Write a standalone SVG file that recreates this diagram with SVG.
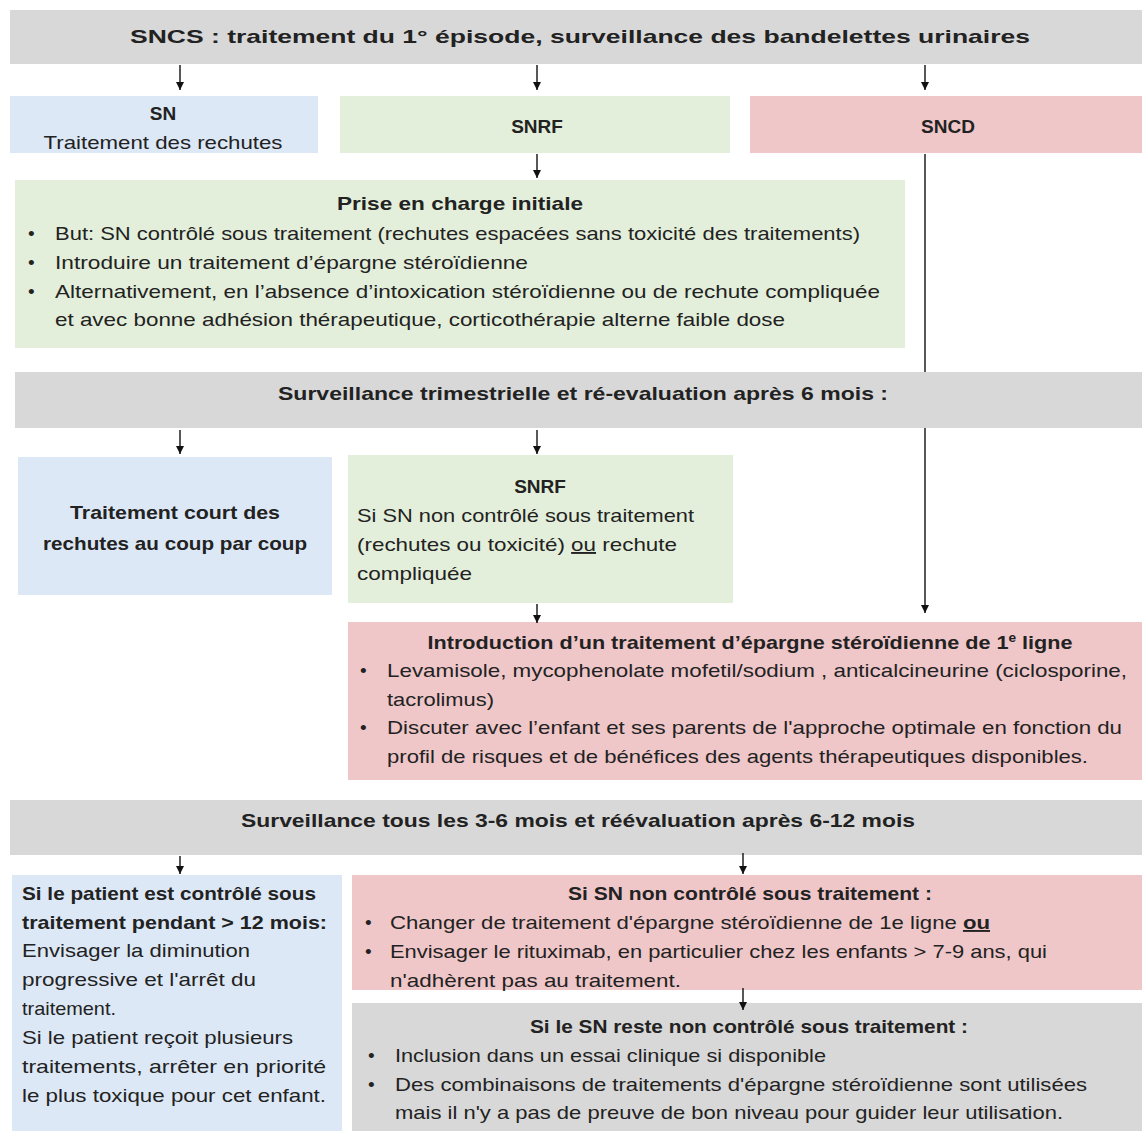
<svg xmlns="http://www.w3.org/2000/svg" width="1142" height="1131" viewBox="0 0 1142 1131">
<style>
.t{font-family:"Liberation Sans",Arial,sans-serif;fill:#222;font-size:19px}
.b{font-weight:bold}
.c{text-anchor:middle}
.gray{fill:#d8d8d8}
.blue{fill:#dde8f6}
.green{fill:#e3efda}
.red{fill:#efc7c9}
.ln{stroke:#111;stroke-width:1.4;fill:none}
.u{text-decoration:underline}
</style>
<defs>
<marker id="ah" viewBox="0 0 10 10" refX="10" refY="5" markerWidth="8" markerHeight="8" markerUnits="userSpaceOnUse" orient="auto">
<path d="M0,0 L10,5 L0,10 z" fill="#111"/>
</marker>
</defs>
<rect width="1142" height="1131" fill="#fff"/>

<g id="title">
<rect class="gray" x="10" y="10" width="1132" height="54"/>
<text class="t b c" x="580" y="43" font-size="27" textLength="900" lengthAdjust="spacingAndGlyphs">SNCS : traitement du 1° épisode, surveillance des bandelettes urinaires</text>
</g>

<g id="sn">
<rect class="blue" x="10" y="96" width="308" height="57"/>
<text class="t b c" x="163" y="120" font-size="20">SN</text>
<text class="t c" x="163" y="149" font-size="20" textLength="239" lengthAdjust="spacingAndGlyphs">Traitement des rechutes</text>
</g>

<g id="snrf">
<rect class="green" x="340" y="96" width="390" height="57"/>
<text class="t b c" x="537" y="133" font-size="20">SNRF</text>
</g>

<g id="sncd">
<rect class="red" x="750" y="96" width="392" height="57"/>
<text class="t b c" x="948" y="133" font-size="20">SNCD</text>
</g>

<g id="prise">
<rect class="green" x="15" y="180" width="890" height="168"/>
<text class="t b c" x="460" y="210" font-size="21" textLength="246" lengthAdjust="spacingAndGlyphs">Prise en charge initiale</text>
<text class="t" x="28" y="240">•</text>
<text class="t" x="55" y="240" textLength="805" lengthAdjust="spacingAndGlyphs">But: SN contrôlé sous traitement (rechutes espacées sans toxicité des traitements)</text>
<text class="t" x="28" y="269">•</text>
<text class="t" x="55" y="269" textLength="473" lengthAdjust="spacingAndGlyphs">Introduire un traitement d’épargne stéroïdienne</text>
<text class="t" x="28" y="298">•</text>
<text class="t" x="55" y="298" textLength="825" lengthAdjust="spacingAndGlyphs">Alternativement, en l’absence d’intoxication stéroïdienne ou de rechute compliquée</text>
<text class="t" x="55" y="326" textLength="730" lengthAdjust="spacingAndGlyphs">et avec bonne adhésion thérapeutique, corticothérapie alterne faible dose</text>
</g>

<g id="surv1">
<rect class="gray" x="15" y="372" width="1127" height="56"/>
<text class="t b c" x="583" y="400" font-size="21" textLength="610" lengthAdjust="spacingAndGlyphs">Surveillance trimestrielle et ré-evaluation après 6 mois :</text>
</g>

<g id="court">
<rect class="blue" x="18" y="457" width="314" height="138"/>
<text class="t b c" x="175" y="519" font-size="20" textLength="210" lengthAdjust="spacingAndGlyphs">Traitement court des</text>
<text class="t b c" x="175" y="550" font-size="20" textLength="264" lengthAdjust="spacingAndGlyphs">rechutes au coup par coup</text>
</g>

<g id="snrf2">
<rect class="green" x="348" y="455" width="385" height="148"/>
<text class="t b c" x="540" y="493" font-size="19">SNRF</text>
<text class="t" x="357" y="522" textLength="337" lengthAdjust="spacingAndGlyphs">Si SN non contrôlé sous traitement</text>
<text class="t" x="357" y="551" textLength="320" lengthAdjust="spacingAndGlyphs">(rechutes ou toxicité) <tspan class="u">ou</tspan> rechute</text>
<text class="t" x="357" y="580" textLength="115" lengthAdjust="spacingAndGlyphs">compliquée</text>
</g>

<g id="intro">
<rect class="red" x="348" y="622" width="794" height="158"/>
<text class="t b c" x="750" y="649" font-size="20" textLength="645" lengthAdjust="spacingAndGlyphs">Introduction d’un traitement d’épargne stéroïdienne de 1<tspan font-size="12" baseline-shift="super">e</tspan> ligne</text>
<text class="t" x="360" y="677">•</text>
<text class="t" x="387" y="677" textLength="740" lengthAdjust="spacingAndGlyphs">Levamisole, mycophenolate mofetil/sodium , anticalcineurine (ciclosporine,</text>
<text class="t" x="387" y="706" textLength="107" lengthAdjust="spacingAndGlyphs">tacrolimus)</text>
<text class="t" x="360" y="734">•</text>
<text class="t" x="387" y="734" textLength="735" lengthAdjust="spacingAndGlyphs">Discuter avec l’enfant et ses parents de l'approche optimale en fonction du</text>
<text class="t" x="387" y="763" textLength="701" lengthAdjust="spacingAndGlyphs">profil de risques et de bénéfices des agents thérapeutiques disponibles.</text>
</g>

<g id="surv2">
<rect class="gray" x="10" y="800" width="1132" height="55"/>
<text class="t b c" x="578" y="827" font-size="20" textLength="674" lengthAdjust="spacingAndGlyphs">Surveillance tous les 3-6 mois et réévaluation après 6-12 mois</text>
</g>

<g id="controle">
<rect class="blue" x="12" y="875" width="330" height="256"/>
<text class="t b" x="22" y="900" textLength="294" lengthAdjust="spacingAndGlyphs">Si le patient est contrôlé sous</text>
<text class="t b" x="22" y="929" textLength="305" lengthAdjust="spacingAndGlyphs">traitement pendant &gt; 12 mois:</text>
<text class="t" x="22" y="957" textLength="228" lengthAdjust="spacingAndGlyphs">Envisager la diminution</text>
<text class="t" x="22" y="986" textLength="234" lengthAdjust="spacingAndGlyphs">progressive et l'arrêt du</text>
<text class="t" x="22" y="1015" textLength="94" lengthAdjust="spacingAndGlyphs">traitement.</text>
<text class="t" x="22" y="1044" textLength="271" lengthAdjust="spacingAndGlyphs">Si le patient reçoit plusieurs</text>
<text class="t" x="22" y="1073" textLength="304" lengthAdjust="spacingAndGlyphs">traitements, arrêter en priorité</text>
<text class="t" x="22" y="1102" textLength="304" lengthAdjust="spacingAndGlyphs">le plus toxique pour cet enfant.</text>
</g>

<g id="noncontrole">
<rect class="red" x="352" y="875" width="790" height="115"/>
<text class="t b c" x="750" y="900" textLength="364" lengthAdjust="spacingAndGlyphs">Si SN non contrôlé sous traitement :</text>
<text class="t" x="365" y="929">•</text>
<text class="t" x="390" y="929" textLength="600" lengthAdjust="spacingAndGlyphs">Changer de traitement d'épargne stéroïdienne de 1e ligne <tspan class="u" font-weight="bold">ou</tspan></text>
<text class="t" x="365" y="958">•</text>
<text class="t" x="390" y="958" textLength="657" lengthAdjust="spacingAndGlyphs">Envisager le rituximab, en particulier chez les enfants &gt; 7-9 ans, qui</text>
<text class="t" x="390" y="987" textLength="291" lengthAdjust="spacingAndGlyphs">n'adhèrent pas au traitement.</text>
</g>

<g id="reste">
<rect class="gray" x="352" y="1003" width="790" height="128"/>
<text class="t b c" x="749" y="1033" textLength="438" lengthAdjust="spacingAndGlyphs">Si le SN reste non contrôlé sous traitement :</text>
<text class="t" x="368" y="1062">•</text>
<text class="t" x="395" y="1062" textLength="431" lengthAdjust="spacingAndGlyphs">Inclusion dans un essai clinique si disponible</text>
<text class="t" x="368" y="1091">•</text>
<text class="t" x="395" y="1091" textLength="692" lengthAdjust="spacingAndGlyphs">Des combinaisons de traitements d'épargne stéroïdienne sont utilisées</text>
<text class="t" x="395" y="1119" textLength="668" lengthAdjust="spacingAndGlyphs">mais il n'y a pas de preuve de bon niveau pour guider leur utilisation.</text>
</g>

<g id="connectors">
<line class="ln" x1="180" y1="65" x2="180" y2="90" marker-end="url(#ah)"/>
<line class="ln" x1="537" y1="65" x2="537" y2="90" marker-end="url(#ah)"/>
<line class="ln" x1="925" y1="65" x2="925" y2="90" marker-end="url(#ah)"/>
<line class="ln" x1="537" y1="154" x2="537" y2="178" marker-end="url(#ah)"/>
<line class="ln" x1="925" y1="154" x2="925" y2="372"/>
<line class="ln" x1="925" y1="428" x2="925" y2="613" marker-end="url(#ah)"/>
<line class="ln" x1="180" y1="430" x2="180" y2="454" marker-end="url(#ah)"/>
<line class="ln" x1="537" y1="430" x2="537" y2="454" marker-end="url(#ah)"/>
<line class="ln" x1="537" y1="604" x2="537" y2="623" marker-end="url(#ah)"/>
<line class="ln" x1="180" y1="856" x2="180" y2="874" marker-end="url(#ah)"/>
<line class="ln" x1="743" y1="853" x2="743" y2="874" marker-end="url(#ah)"/>
<line class="ln" x1="743" y1="988" x2="743" y2="1010" marker-end="url(#ah)"/>
</g>
</svg>
